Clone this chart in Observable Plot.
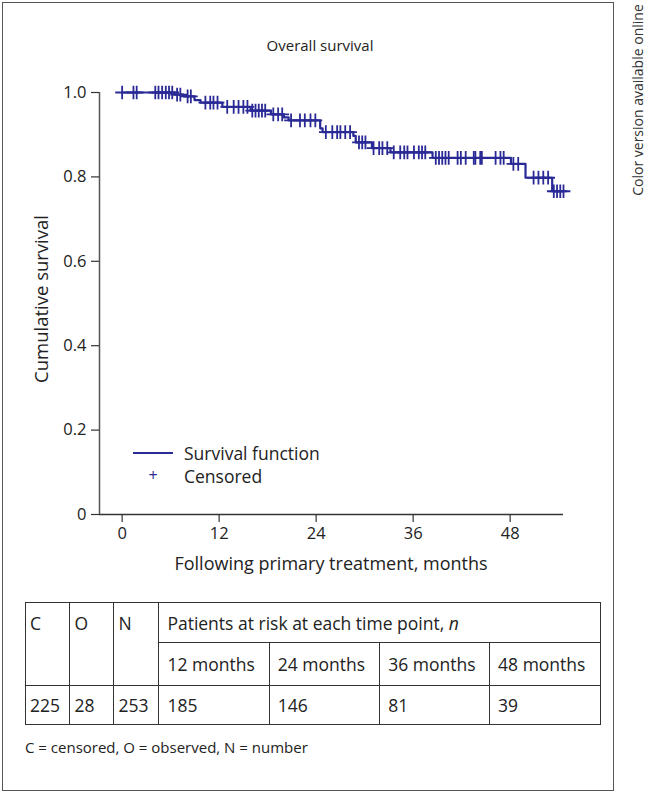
<!DOCTYPE html>
<html><head><meta charset="utf-8">
<script src="https://cdn.jsdelivr.net/npm/d3@7"></script>
<script src="https://cdn.jsdelivr.net/npm/@observablehq/plot@0.6"></script>
<style>
body{margin:0;background:#fff;font-family:"Open Sans",sans-serif;color:#222}
#page{position:relative;width:646px;height:797px;overflow:hidden;background:#fff}
#frame{position:absolute;left:2px;top:2px;width:612px;height:789px;border:1.5px solid #555;box-sizing:border-box}
#side{position:absolute;left:637px;top:100px;transform:translate(-50%,-50%) rotate(-90deg);white-space:nowrap;font-size:14px;color:#333}
#title{position:absolute;left:320px;top:45px;transform:translate(-50%,-50%);font-size:15px;white-space:nowrap}
#plot{position:absolute;left:0;top:0}
#ylab{position:absolute;left:40px;top:299px;transform:translate(-50%,-50%) rotate(-90deg);font-size:18.5px;white-space:nowrap}
#xlab{position:absolute;left:331px;top:563px;transform:translate(-50%,-50%);font-size:18px;white-space:nowrap}
.leg{position:absolute;font-size:17.5px;white-space:nowrap;transform:translateY(-50%)}
#legline{position:absolute;left:133px;top:452px;width:40px;height:0;border-top:2px solid #2a2a96}
#legplus{position:absolute;left:153px;top:475px;transform:translate(-50%,-50%);color:#2a2a96;font-size:16px}
table{position:absolute;left:25px;top:602px;width:575px;border-collapse:collapse;font-size:17.5px;table-layout:fixed}
td{border:1.5px solid #333;padding:0 0 0 4px;white-space:nowrap;overflow:hidden}
#caption{position:absolute;left:25px;top:747px;transform:translateY(-50%);font-size:15px;white-space:nowrap}
</style></head>
<body><div id="page">
<div id="frame"></div>
<div id="side"></div>
<div id="title"></div>
<div id="plot"></div>
<div id="ylab"></div>
<div id="xlab"></div>
<div id="legline"></div>
<div class="leg" id="leg1" style="left:184px;top:453px"></div>
<div id="legplus">+</div>
<div class="leg" id="leg2" style="left:184px;top:476px"></div>
<table id="tbl"></table>
<div id="caption"></div>
</div>
<script>
const titleText = "Overall survival";
const sideText = "Color version available online";
const yLabel = "Cumulative survival";
const xLabel = "Following primary treatment, months";
const legendLabels = ["Survival function", "Censored"];
const xDomain = [-2.8, 54.6];
const xTicks = [0, 12, 24, 36, 48];
const yTicks = [0, 0.2, 0.4, 0.6, 0.8, 1.0];
const lineColor = "#2a2a96";

// Kaplan–Meier steps (time in months, survival after the step)
const stepTimes =    [0,   6.5,  7.6,  8.95, 9.7,  12.4, 15.9, 18.4, 20.0, 20.6, 24.5, 24.8, 28.6, 28.9, 30.9, 33.2, 38.4, 48.1, 49.9, 53.2];
const stepSurvival = [1.0, 0.995,0.991,0.982,0.976,0.966,0.957,0.948,0.941,0.934,0.915,0.906,0.897,0.882,0.868,0.858,0.845,0.831,0.798,0.766];
const endTime = 54.6;
const censorTimes = [0, 1.4, 1.8, 4.1, 4.5, 4.95, 5.4, 5.8, 6.2, 6.8, 7.2, 8.1, 8.5, 10.3, 10.9, 11.3, 11.8,
  13.0, 13.8, 14.4, 15.0, 15.5, 16.1, 16.5, 16.9, 17.3, 17.7, 18.7, 19.3, 19.8, 20.9, 22.0, 22.6, 23.3, 23.9,
  25.2, 26.0, 26.6, 27.0, 27.6, 28.2, 29.3, 29.7, 30.1, 31.1, 31.8, 32.2, 32.8, 33.6, 34.4, 34.9, 35.3,
  36.1, 36.7, 37.1, 37.5, 38.8, 39.2, 39.6, 40.0, 40.4, 41.5, 41.9, 42.5, 43.5, 43.7, 44.3, 44.5,
  46.2, 46.8, 47.2, 48.4, 49.0, 50.9, 51.5, 52.1, 52.7, 53.4, 53.8, 54.2, 54.6];

// table
const tableCols = ["C", "O", "N"];
const riskHeader = "Patients at risk at each time point, ";
const riskTimes = ["12 months", "24 months", "36 months", "48 months"];
const tableCounts = [225, 28, 253];
const atRisk = [185, 146, 81, 39];
const captionText = "C = censored, O = observed, N = number";
const colWidths = [44.4, 44, 45, 110.4, 110.5, 109.8, 111];
const rowHeights = [40, 43, 39];

document.getElementById("title").textContent = titleText;
document.getElementById("side").textContent = sideText;
document.getElementById("ylab").textContent = yLabel;
document.getElementById("xlab").textContent = xLabel;
document.getElementById("leg1").textContent = legendLabels[0];
document.getElementById("leg2").textContent = legendLabels[1];
document.getElementById("caption").textContent = captionText;

const stepData = stepTimes.map((t, i) => ({t, s: stepSurvival[i]}))
  .concat([{t: endTime, s: stepSurvival[stepSurvival.length - 1]}]);
function survAt(t) { let s = 1; for (const d of stepData) if (d.t <= t) s = d.s; return s; }
const censorData = censorTimes.map(t => ({t, s: survAt(t)}));

const chart = Plot.plot({
  width: 646, height: 590,
  marginLeft: 99, marginRight: 83, marginTop: 92, marginBottom: 76,
  x: {domain: xDomain, label: null},
  y: {domain: [0, 1], label: null},
  style: {fontFamily: "Open Sans", fontSize: "16.5px", color: "#222", background: "transparent", overflow: "visible"},
  marks: [
    Plot.ruleY([0], {stroke: "#333", strokeWidth: 1.5}),
    Plot.ruleX([xDomain[0]], {stroke: "#555", strokeWidth: 1.5}),
    Plot.axisX({ticks: xTicks, tickSize: 8, tickPadding: 5, label: null, tickFormat: d => String(d), stroke: "#333", strokeWidth: 1.2}),
    Plot.axisY({ticks: yTicks, tickSize: 8, tickPadding: 5, label: null, tickFormat: d => d === 0 ? "0" : d.toFixed(1), stroke: "#333", strokeWidth: 1.2}),
    Plot.line(stepData, {x: "t", y: "s", curve: "step-after", stroke: lineColor, strokeWidth: 2.2}),
    Plot.dot(censorData, {x: "t", y: "s", symbol: "plus", r: 4.5, stroke: lineColor, strokeWidth: 1.8})
  ]
});
document.getElementById("plot").appendChild(chart);

// build table
const tbl = document.getElementById("tbl");
const cg = document.createElement("colgroup");
colWidths.forEach(w => { const c = document.createElement("col"); c.style.width = w + "px"; cg.appendChild(c); });
tbl.appendChild(cg);
const r1 = tbl.insertRow(); r1.style.height = rowHeights[0] + "px";
tableCols.forEach(c => { const td = r1.insertCell(); td.rowSpan = 2; td.textContent = c; td.style.verticalAlign = "top"; td.style.paddingTop = "8px"; });
const h = r1.insertCell(); h.colSpan = 4; h.textContent = riskHeader; h.style.paddingLeft = "8px";
const it = document.createElement("i"); it.textContent = "n"; h.appendChild(it);
const r2 = tbl.insertRow(); r2.style.height = rowHeights[1] + "px";
riskTimes.forEach(t => { const td = r2.insertCell(); td.textContent = t; td.style.paddingLeft = "8px"; });
const r3 = tbl.insertRow(); r3.style.height = rowHeights[2] + "px";
tableCounts.concat(atRisk).forEach((v, i) => { const td = r3.insertCell(); td.textContent = v; if (i >= 3) td.style.paddingLeft = "8px"; });
</script>
</body></html>
